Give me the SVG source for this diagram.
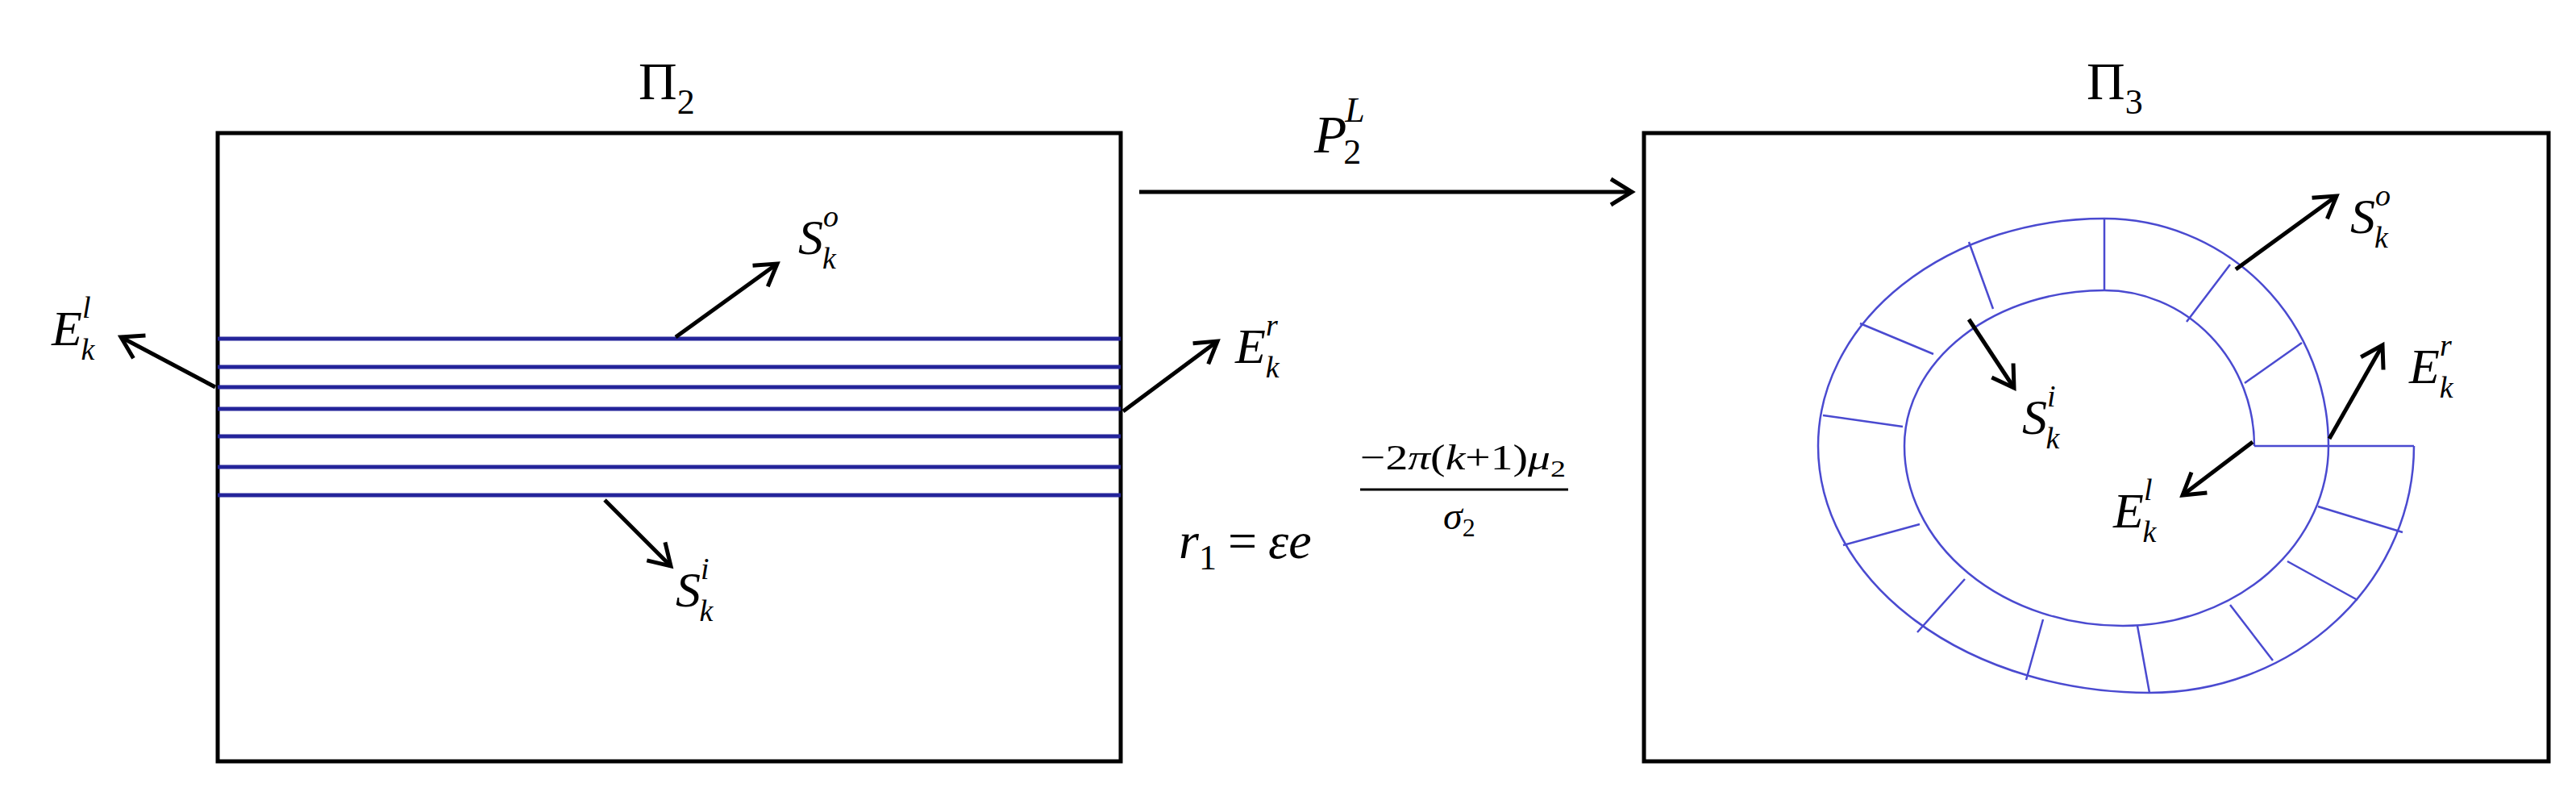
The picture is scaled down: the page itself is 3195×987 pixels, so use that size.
<svg xmlns="http://www.w3.org/2000/svg" width="3195" height="987" viewBox="0 0 3195 987">
<defs>
<style>
.box{fill:none;stroke:#000;stroke-width:5}
.band{stroke:#24249a;stroke-width:5}
.sp{fill:none;stroke:#4a4ad0;stroke-width:2.5}
.arr{stroke:#000;stroke-width:5;fill:none;marker-end:url(#h)}
text,tspan{font-family:"Liberation Serif","DejaVu Serif",serif;fill:#000}
.t{font-style:italic}
.u{font-style:normal}
.sm{font-size:38px}
</style>
<marker id="h" markerUnits="userSpaceOnUse" markerWidth="60" markerHeight="60" viewBox="-40 -30 60 60" refX="0" refY="0" orient="auto">
<path d="M-26,-16 L0,0 L-26,16" fill="none" stroke="#000" stroke-width="5"/>
</marker>
</defs>
<rect width="3195" height="987" fill="#fff"/>
<g id="left">
<rect class="box" x="270" y="165" width="1120" height="779"/>
<text class="u" x="792" y="123" style="font-size:66px">Π<tspan style="font-size:44px" dy="18">2</tspan></text>
<g class="band">
<line x1="270" y1="420" x2="1390" y2="420"/><line x1="270" y1="455" x2="1390" y2="455"/>
<line x1="270" y1="480" x2="1390" y2="480"/><line x1="270" y1="507" x2="1390" y2="507"/>
<line x1="270" y1="541" x2="1390" y2="541"/><line x1="270" y1="579" x2="1390" y2="579"/>
<line x1="270" y1="614" x2="1390" y2="614"/>
</g>
</g>
<g id="right">
<rect class="box" x="2039" y="165" width="1122" height="779"/>
<text class="u" x="2588" y="123" style="font-size:66px">Π<tspan style="font-size:44px" dy="18">3</tspan></text>
<path class="sp" d="M2796,553 A186,193 0 0 0 2610,360 A248,193 0 0 0 2362,553 A271,223 0 0 0 2633,776 A255,223 0 0 0 2888,553"/>
<path class="sp" d="M2888,553 A278,282 0 0 0 2610,271 A355,282 0 0 0 2255,553 A411,306 0 0 0 2666,859 A328,306 0 0 0 2994,553"/>
<path class="sp" d="M2796,553 H2994 M2784,475 L2855,425 M2712,399 L2766,328 M2610,360 L2610,271 M2472,383 L2442,300 M2398,439 L2307,401 M2360,529 L2261,515 M2381,650 L2286,676 M2437,718 L2378,784 M2534,768 L2513,843 M2651,776 L2666,859 M2766,750 L2819,819 M2837,696 L2924,744 M2875,628 L2980,660"/>
</g>
<g id="connectors">
<line class="arr" x1="1413" y1="238" x2="2024" y2="238"/>
<line class="arr" x1="838" y1="418" x2="964" y2="327"/>
<line class="arr" x1="267" y1="480" x2="150" y2="418"/>
<line class="arr" x1="1393" y1="510" x2="1510" y2="423"/>
<line class="arr" x1="750" y1="620" x2="832" y2="702"/>
<line class="arr" x1="2773" y1="334" x2="2898" y2="243"/>
<line class="arr" x1="2442" y1="396" x2="2498" y2="481"/>
<line class="arr" x1="2889" y1="544" x2="2955" y2="428"/>
<line class="arr" x1="2794" y1="548" x2="2707" y2="614"/>
</g>
<g id="labels" style="font-size:62px">
<text class="t" x="1630" y="189" style="font-size:66px">P<tspan class="u" style="font-size:44px" dx="-4" dy="14">2</tspan><tspan style="font-size:44px" dx="-20" dy="-52">L</tspan></text>
<text class="t" x="990" y="315">S<tspan class="sm" dy="-34">o</tspan><tspan class="sm" dx="-20" dy="52">k</tspan></text>
<text class="t" x="64" y="428">E<tspan class="sm" dy="-34">l</tspan><tspan class="sm" dx="-12" dy="52">k</tspan></text>
<text class="t" x="1532" y="450">E<tspan class="sm" dy="-34">r</tspan><tspan class="sm" dx="-15" dy="52">k</tspan></text>
<text class="t" x="838" y="752">S<tspan class="sm" dy="-34">i</tspan><tspan class="sm" dx="-12" dy="52">k</tspan></text>
<text class="t" x="2915" y="289">S<tspan class="sm" dy="-34">o</tspan><tspan class="sm" dx="-20" dy="52">k</tspan></text>
<text class="t" x="2508" y="538">S<tspan class="sm" dy="-34">i</tspan><tspan class="sm" dx="-12" dy="52">k</tspan></text>
<text class="t" x="2988" y="475">E<tspan class="sm" dy="-34">r</tspan><tspan class="sm" dx="-15" dy="52">k</tspan></text>
<text class="t" x="2621" y="654">E<tspan class="sm" dy="-34">l</tspan><tspan class="sm" dx="-12" dy="52">k</tspan></text>
<text class="t" x="1462" y="692" style="font-size:64px">r<tspan class="u" style="font-size:44px" dy="14">1</tspan><tspan class="u" dx="14" dy="-14">=</tspan><tspan dx="14">εe</tspan></text>
<text class="t" x="1687" y="582" style="font-size:44px" textLength="255" lengthAdjust="spacingAndGlyphs"><tspan class="u">−2</tspan>π<tspan class="u">(</tspan>k<tspan class="u">+1)</tspan>μ<tspan class="u" style="font-size:30px" dy="9">2</tspan></text>
<line x1="1687" y1="607" x2="1945" y2="607" stroke="#000" stroke-width="3"/>
<text class="t" x="1790" y="656" style="font-size:48px">σ<tspan class="u" style="font-size:32px" dy="9">2</tspan></text>
</g>
</svg>
